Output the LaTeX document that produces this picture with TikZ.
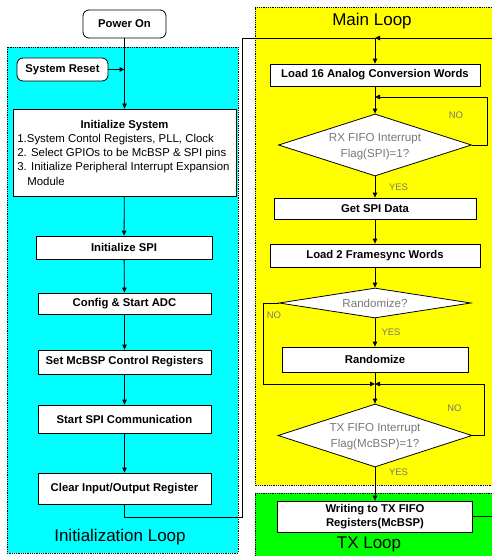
\documentclass[tikz,border=0pt]{standalone}
\usepackage{fontspec}
\setmainfont{Liberation Sans}
\usetikzlibrary{shapes.geometric,arrows.meta}
\definecolor{cyanbg}{RGB}{0,255,255}
\definecolor{yellowbg}{RGB}{255,255,0}
\definecolor{greenbg}{RGB}{0,255,0}
\definecolor{dgray}{RGB}{120,120,120}
\newcommand{\btxt}{\fontsize{11.3}{13.5}\selectfont\bfseries}
\begin{document}
\begin{tikzpicture}[x=1pt,y=-1pt,
  line width=0.8pt,
  box/.style={draw, fill=white, inner sep=0pt, font=\btxt, align=center},
  rbox/.style={box, rounded corners=6pt},
  dia/.style={diamond, draw, fill=white, inner sep=0pt, aspect=1},
  dtxt/.style={font=\fontsize{11.6}{16}\selectfont, text=dgray, align=center, inner sep=0pt},
  lbl/.style={font=\fontsize{9.5}{11}\selectfont, text=dgray, inner sep=0pt},
  ttl/.style={font=\fontsize{17}{20}\selectfont, inner sep=0pt},
  itxt/.style={font=\fontsize{11.4}{13.5}\selectfont, anchor=base west, inner sep=0pt},
  arr/.style={-{Triangle[length=5pt,width=4.5pt]}},
  region/.style={densely dotted, line width=0.8pt}
]
\useasboundingbox (0,0) rectangle (492,556);
% regions
\fill[cyanbg] (7,47) rectangle (238,553);
\draw[region] (7,47) rectangle (238,553);
\fill[yellowbg] (255,7) rectangle (492,485);
\draw[region] (492,7) -- (255,7) -- (255,485) -- (492,485);
\fill[greenbg] (255,493) rectangle (492,556);
\draw[region] (492,493) -- (255,493) -- (255,556);
% titles
\node[ttl] (tmain) at (372,21) {Main Loop};
\node[ttl] (tinit) at (120,537) {Initialization Loop};
\node[ttl] (ttx) at (369,544) {TX Loop};
% left column
\node[rbox, minimum width=83pt, minimum height=28pt] (pwr) at (124.5,24) {Power On};
\node[rbox, minimum width=91pt, minimum height=23pt] (reset) at (62.5,69.5) {System Reset};
\node[box, minimum width=223pt, minimum height=87pt] (init) at (124.5,152.5) {};
\node[inner sep=0pt, font=\btxt, anchor=base] (inittl) at (124.5,129) {Initialize System};
\node[itxt] (il1) at (17,143) {1.System Contol Registers, PLL, Clock};
\node[itxt] (il2) at (17,157) {2. Select GPIOs to be McBSP \& SPI pins};
\node[itxt] (il3) at (17,171) {3. Initialize Peripheral Interrupt Expansion};
\node[itxt] (il4) at (27,185) {Module};
\node[box, minimum width=176pt, minimum height=23pt] (ispi) at (124,247.5) {Initialize SPI};
\node[box, minimum width=173pt, minimum height=21pt] (cfg) at (124.5,303.5) {Config \& Start ADC};
\node[box, minimum width=173pt, minimum height=24pt] (mcb) at (124.5,362) {Set McBSP Control Registers};
\node[box, minimum width=173pt, minimum height=28pt] (spic) at (124.5,419) {Start SPI Communication};
\node[box, minimum width=173pt, minimum height=31pt] (clr) at (124.5,488.5) {Clear Input/Output Register};
% right column
\node[box, minimum width=210pt, minimum height=22pt] (l16) at (375,75) {Load 16 Analog Conversion Words};
\node[dia, minimum width=193pt, minimum height=62pt] (rx) at (375,145) {};
\node[dtxt] (rxt) at (375,147) {RX FIFO Interrupt\\Flag(SPI)=1?};
\node[box, minimum width=202pt, minimum height=21pt] (gspi) at (375,208.5) {Get SPI Data};
\node[box, minimum width=210pt, minimum height=23pt] (l2) at (375,255.5) {Load 2 Framesync Words};
\node[dia, minimum width=192pt, minimum height=30pt] (rq) at (375,303) {};
\node[dtxt] (rqt) at (375,303) {Randomize?};
\node[box, minimum width=186pt, minimum height=25pt] (rnd) at (375,359.5) {Randomize};
\node[dia, minimum width=194pt, minimum height=63pt] (tx) at (375,435.5) {};
\node[dtxt] (txt) at (375,437) {TX FIFO Interrupt\\Flag(McBSP)=1?};
\node[box, minimum width=195pt, minimum height=31pt, font=\fontsize{11.3}{14.5}\selectfont\bfseries] (wr) at (375,516.5) {Writing to TX FIFO\\Registers(McBSP)};
% labels
\node[lbl] (no1) at (456,115.5) {NO};
\node[lbl] (yes1) at (398.5,187.5) {YES};
\node[lbl] (no2) at (274,315) {NO};
\node[lbl] (yes2) at (391,332) {YES};
\node[lbl] (no3) at (454.5,408.5) {NO};
\node[lbl] (yes3) at (398.5,472.5) {YES};
% coordinates
\coordinate (j1) at (375,38);
\coordinate (j2) at (375,97);
\coordinate (j3) at (375,384);
\coordinate (cl) at (242,517);
\coordinate (ct) at (242,38);
\coordinate (tr) at (492,38);
\coordinate (wre) at (492,516.5);
\coordinate (rxr) at (487,145);
\coordinate (rql) at (263,303);
\coordinate (txr) at (484,435.5);
% connectors left
\draw[arr] (pwr) -- (init);
\draw[arr] (reset.east) -- (reset.east -| pwr.south);
\draw[arr] (init) -- (ispi);
\draw[arr] (ispi) -- (cfg);
\draw[arr] (cfg) -- (mcb);
\draw[arr] (mcb) -- (spic);
\draw[arr] (spic) -- (clr);
\draw (clr.south) |- (cl) -- (ct) -- (j1);
% connectors right
\draw (wr.east) -- (wre);
\draw[arr] (tr) -- (j1);
\draw[arr] (j1) -- (l16);
\draw[arr] (l16) -- (rx.north);
\draw[arr] (rx.east) -- (rxr) |- (j2);
\draw[arr] (rx.south) -- (gspi);
\draw[arr] (gspi) -- (l2);
\draw[arr] (l2) -- (rq.north);
\draw[arr] (rq.south) -- (rnd);
\draw[arr] (rq.west) -- (rql) |- (j3);
\draw[arr] (rnd) -- (tx.north);
\draw[arr] (tx.east) -- (txr) |- (j3);
\draw[arr] (tx.south) -- (wr);
\end{tikzpicture}
\end{document}
